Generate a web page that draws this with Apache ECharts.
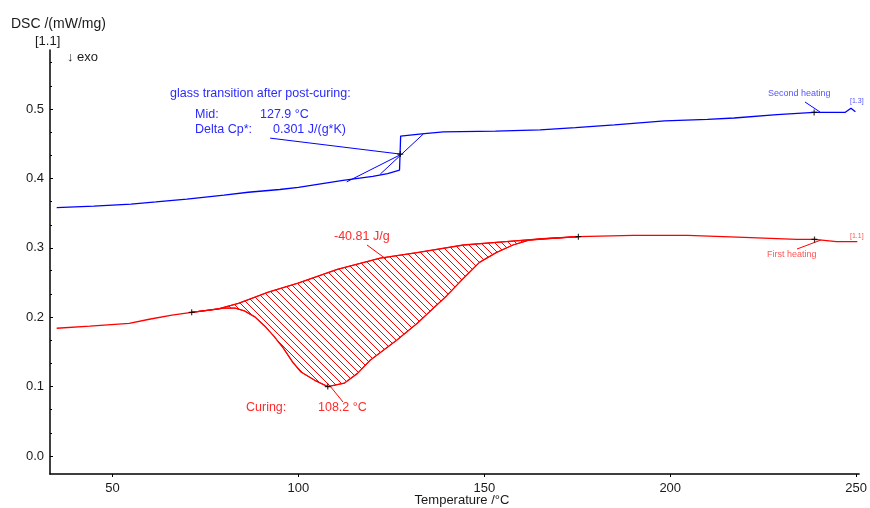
<!DOCTYPE html>
<html><head><meta charset="utf-8">
<script src="https://cdn.jsdelivr.net/npm/echarts@6.0.0/dist/echarts.min.js"></script>
<style>html,body{margin:0;padding:0;background:#fff}#c{width:870px;height:508px}</style>
</head><body><div id="c"></div>
<script>
// ---- data ----
const xTicks = [50, 100, 150, 200, 250];
const yTicks = [0.0, 0.1, 0.2, 0.3, 0.4, 0.5];
const yMinorTicks = [0.033, 0.067, 0.133, 0.167, 0.233, 0.267, 0.333, 0.367, 0.433, 0.467, 0.533, 0.567];

// Second heating (blue)
const blueT = [35, 45, 55, 61.7, 70, 80, 86.5, 95, 100, 106, 112, 120, 124, 127.2, 127.5, 133.2, 139, 153, 165, 174.5, 185, 198.5, 210, 217.2, 228.7, 238.7, 247, 248.6, 249.8];
const blueV = [0.358, 0.360, 0.363, 0.366, 0.370, 0.376, 0.380, 0.384, 0.387, 0.392, 0.397, 0.403, 0.407, 0.412, 0.461, 0.464, 0.467, 0.468, 0.470, 0.473, 0.477, 0.483, 0.485, 0.487, 0.492, 0.495, 0.495, 0.501, 0.496];

// First heating (red)
const redT = [35, 43.9, 54.5, 59.9, 66, 71.3, 76, 80, 83, 85.5, 88.4, 91, 93.5, 96, 98.5, 100.7, 104.4, 107.9, 112.4, 115.9, 119.3, 126.5, 131.9, 139.9, 144.4, 148.7, 153.2, 157.7, 162, 166.5, 175.3, 190, 204.7, 205, 219.9, 234, 238.8, 244.7, 250.3];
const redV = [0.184, 0.187, 0.191, 0.197, 0.203, 0.207, 0.210, 0.213, 0.213, 0.209, 0.200, 0.187, 0.172, 0.155, 0.135, 0.121, 0.109, 0.100, 0.105, 0.119, 0.138, 0.167, 0.191, 0.231, 0.256, 0.279, 0.293, 0.304, 0.311, 0.313, 0.316, 0.318, 0.318, 0.317, 0.315, 0.312, 0.312, 0.309, 0.309];

// integration baseline of the curing peak
const baseT = [71.3, 78.5, 83.9, 91.9, 99.9, 110.5, 122.0, 131.9, 144.4, 155.9, 165.7, 175.3];
const baseV = [0.207, 0.212, 0.220, 0.236, 0.249, 0.269, 0.285, 0.293, 0.304, 0.309, 0.313, 0.316];

// glass transition construction lines
const tgLeader = [[92.4, 0.458], [127.4, 0.435]];
const tgLowerLine = [[113, 0.395], [127.4, 0.434]];
const tgTangent = [[122, 0.406], [133.6, 0.464]];

// evaluation markers
const redMarks = [[71.3, 0.207], [107.9, 0.100], [175.3, 0.316], [238.8, 0.312]];
const blueMarks = [[238.7, 0.495], [127.4, 0.435]];

// ---- chart ----
const pair = (t, v) => t.map((x, i) => [x, v[i]]);
const redData = pair(redT, redV);
const blueData = pair(blueT, blueV);
const peakStart = baseT[0], peakEnd = baseT[baseT.length - 1];
const hatchPoly = pair(baseT, baseV).concat(redData.filter(p => p[0] >= peakStart && p[0] <= peakEnd).reverse());

// hatch pattern
const pc = document.createElement('canvas');
pc.width = 7; pc.height = 7;
const g = pc.getContext('2d');
g.strokeStyle = '#ff0000'; g.lineWidth = 1;
g.beginPath();
g.moveTo(-1, -1); g.lineTo(8, 8);
g.moveTo(-1, 6); g.lineTo(1, 8);
g.moveTo(6, -1); g.lineTo(8, 1);
g.stroke();

const FONT = '"Liberation Sans", Arial, sans-serif';
const chart = echarts.init(document.getElementById('c'), null, {renderer: 'canvas'});
const plus = 'path://M4,0h2v10h-2zM0,4h10v2h-10z';

const lineSeries = (data, color, w) => ({
  type: 'line', data, showSymbol: false, symbol: 'none', silent: true,
  lineStyle: {color, width: w}, animation: false, z: 3
});

chart.setOption({
  animation: false,
  backgroundColor: '#fff',
  grid: {left: 50, right: 4, top: 50, bottom: 34, containLabel: false},
  xAxis: {
    type: 'value', min: 33.2, max: 250.8,
    axisLine: {show: true, onZero: false, lineStyle: {color: '#000', width: 1.5}},
    axisTick: {show: true, length: 3, lineStyle: {color: '#000'}, customValues: xTicks},
    axisLabel: {customValues: xTicks, color: '#1a1a1a', fontFamily: FONT, fontSize: 13, margin: 8},
    splitLine: {show: false}
  },
  yAxis: [{
    type: 'value', min: -0.026, max: 0.585,
    axisLine: {show: true, onZero: false, lineStyle: {color: '#000', width: 1.5}},
    axisTick: {show: true, inside: true, length: 3, lineStyle: {color: '#000'}, customValues: yTicks},
    axisLabel: {customValues: yTicks, color: '#1a1a1a', fontFamily: FONT, fontSize: 13, margin: 6,
      formatter: v => v.toFixed(1)},
    splitLine: {show: false}
  }, {
    type: 'value', min: -0.026, max: 0.585, position: 'left',
    axisLine: {show: false, onZero: false},
    axisTick: {show: true, inside: true, length: 2, lineStyle: {color: '#000'}, customValues: yMinorTicks},
    axisLabel: {show: false}, splitLine: {show: false}
  }],
  series: [
    {
      type: 'custom', silent: true, z: 2,
      data: [hatchPoly[0]],
      renderItem: (params, api) => ({
        type: 'polygon',
        shape: {points: hatchPoly.map(p => api.coord(p))},
        style: {fill: {image: pc, repeat: 'repeat'}, stroke: '#ff0000', lineWidth: 1}
      })
    },
    lineSeries(redData, '#ff0000', 1.3),
    lineSeries(pair(baseT, baseV), '#ff0000', 1.3),
    lineSeries(blueData, '#0000ff', 1.3),
    lineSeries(tgLeader, '#0000ff', 1),
    lineSeries(tgLowerLine, '#0000ff', 1),
    lineSeries(tgTangent, '#0000ff', 1),
    {type: 'scatter', data: redMarks.concat(blueMarks), symbol: plus, symbolSize: 6,
      itemStyle: {color: '#000'}, z: 5, silent: true}
  ],
  graphic: [
    {type: 'text', left: 11, top: 17, style: {text: 'DSC /(mW/mg)', font: '14px ' + FONT, fill: '#1a1a1a'}},
    {type: 'text', left: 35, top: 35, style: {text: '[1.1]', font: '13px ' + FONT, fill: '#1a1a1a'}},
    {type: 'text', left: 67, top: 51, style: {text: '↓ exo', font: '13px ' + FONT, fill: '#1a1a1a'}},
    {type: 'text', x: 462, y: 500, style: {text: 'Temperature /°C', font: '13px ' + FONT, fill: '#1a1a1a', align: 'center', verticalAlign: 'middle'}},

    {type: 'text', x: 170, y: 94, style: {text: 'glass transition after post-curing:', font: '12.5px ' + FONT, fill: '#2a2aff', verticalAlign: 'middle'}},
    {type: 'text', x: 195, y: 115, style: {text: 'Mid:', font: '12.5px ' + FONT, fill: '#2a2aff', verticalAlign: 'middle'}},
    {type: 'text', x: 260, y: 115, style: {text: '127.9 °C', font: '12.5px ' + FONT, fill: '#2a2aff', verticalAlign: 'middle'}},
    {type: 'text', x: 195, y: 130, style: {text: 'Delta Cp*:', font: '12.5px ' + FONT, fill: '#2a2aff', verticalAlign: 'middle'}},
    {type: 'text', x: 273, y: 130, style: {text: '0.301 J/(g*K)', font: '12.5px ' + FONT, fill: '#2a2aff', verticalAlign: 'middle'}},

    {type: 'text', x: 334, y: 237, style: {text: '-40.81 J/g', font: '12.5px ' + FONT, fill: '#ff2a2a', verticalAlign: 'middle'}},
    {type: 'line', shape: {x1: 367, y1: 245, x2: 386, y2: 259}, style: {stroke: '#ff0000', lineWidth: 1}},
    {type: 'text', x: 246, y: 408, style: {text: 'Curing:', font: '12.5px ' + FONT, fill: '#ff2a2a', verticalAlign: 'middle'}},
    {type: 'text', x: 318, y: 408, style: {text: '108.2 °C', font: '12.5px ' + FONT, fill: '#ff2a2a', verticalAlign: 'middle'}},
    {type: 'line', shape: {x1: 330, y1: 386, x2: 343, y2: 402}, style: {stroke: '#ff0000', lineWidth: 1}},

    {type: 'text', x: 768, y: 94, style: {text: 'Second heating', font: '9px ' + FONT, fill: '#5555ff', verticalAlign: 'middle'}},
    {type: 'line', shape: {x1: 805, y1: 102, x2: 820, y2: 112}, style: {stroke: '#0000ff', lineWidth: 1}},
    {type: 'text', x: 850, y: 101, style: {text: '[1.3]', font: '7px ' + FONT, fill: '#5555ff', verticalAlign: 'middle'}},
    {type: 'text', x: 767, y: 255, style: {text: 'First heating', font: '9px ' + FONT, fill: '#ff5555', verticalAlign: 'middle'}},
    {type: 'line', shape: {x1: 821, y1: 240, x2: 797, y2: 249}, style: {stroke: '#ff0000', lineWidth: 1}},
    {type: 'text', x: 850, y: 236, style: {text: '[1.1]', font: '7px ' + FONT, fill: '#ff5555', verticalAlign: 'middle'}}
  ]
});
</script></body></html>
